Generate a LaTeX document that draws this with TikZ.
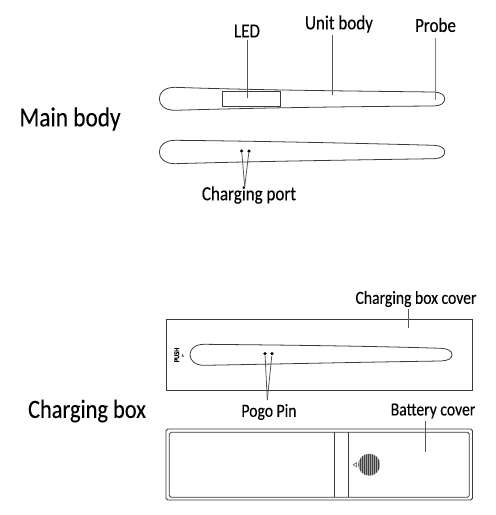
\documentclass[tikz,border=0pt]{standalone}
\usepackage{fontspec}
\usepackage{xcolor}
\usetikzlibrary{arrows.meta,positioning,calc,shapes.geometric}
\setmainfont[FakeStretch=0.85,FakeBold=0.15]{Carlito}
\definecolor{inkline}{HTML}{3A3A3A}
\definecolor{leadgray}{HTML}{555555}

\begin{document}
\begin{tikzpicture}[
    x=0.02cm, y=-0.02cm,
    every node/.style={align=center, inner sep=1pt},
    partlabel/.style={font=\fontsize{10.5}{12}\selectfont, text=black},
    toplabel/.style={font=\fontsize{11.4}{13}\selectfont, text=black},
    grouplabel/.style={font=\fontsize{15.6}{18}\selectfont, text=black},
    outline/.style={draw=inkline, line width=0.45pt},
    leader/.style={draw=leadgray, line width=0.45pt},
    pindot/.style={circle, fill=black, minimum size=2pt, inner sep=0pt},
  ]
  \useasboundingbox (0,0) rectangle (496,515);

  % group titles
  \node[grouplabel] (mainlabel) at (70,119) {Main body};
  \node[font=\fontsize{15}{17}\selectfont] (boxlabel) at (87,411) {Charging box};

  % main body, front
  \draw[outline] (175,87.3) .. controls (250,90) and (350,91) .. (434,92) .. controls (441,92.3) and (444.7,95) .. (444.7,99) .. controls (444.7,103) and (441,105.7) .. (434,106) .. controls (350,106.5) and (250,108) .. (175,110.3) .. controls (165,110.3) and (159.3,105.5) .. (159.3,98.8) .. controls (159.3,92) and (165,87.3) .. (175,87.3) -- cycle;
  \draw[outline] (222,91.3) rectangle (280.3,106.3);

  \node[toplabel] (led) at (247,31) {LED};
  \node[toplabel] (unit) at (339,24) {Unit body};
  \node[toplabel] (probe) at (435.5,25) {Probe};
  \coordinate (ledend) at (247.3,97.7);
  \coordinate (unitend) at (332.3,94.7);
  \coordinate (probeend) at (435.7,100);
  \draw[leader] (ledend |- led.south) -- (ledend);
  \draw[leader] (unitend |- unit.south) -- (unitend);
  \draw[leader, draw=gray] (probeend |- probe.south) ++(0,4) -- (probeend);

  % main body, back
  \draw[outline] (175,140.3) .. controls (250,141) and (350,143) .. (434,145.3) .. controls (441,145.6) and (444.7,148) .. (444.7,152) .. controls (444.7,156) and (441,158.4) .. (434,158.7) .. controls (350,160) and (250,161.5) .. (175,163.7) .. controls (165,163.7) and (159.3,158.5) .. (159.3,152) .. controls (159.3,145.5) and (165,140.3) .. (175,140.3) -- cycle;
  \node[pindot] (portl) at (241.7,151) {};
  \node[pindot] (portr) at (249,151) {};
  \node[toplabel] (port) at (249,195) {Charging port};
  \coordinate (portfoot) at (244.7,186.7);
  \draw[leader] (portfoot) -- (portl);
  \draw[leader] (portfoot) -- (portr);

  % charging box cover
  \draw[outline] (166,319) rectangle (472,390.7);
  \draw[outline] (204,344.3) .. controls (280,345) and (370,346) .. (441,348.3) .. controls (448,348.6) and (452,351) .. (452,354.7) .. controls (452,358.5) and (448,360.7) .. (441,361) .. controls (370,362) and (280,364) .. (204,365.3) .. controls (195,365.3) and (190,360.5) .. (190,354.7) .. controls (190,349) and (195,344.3) .. (204,344.3) -- cycle;
  \node[font=\fontsize{4.2}{5}\selectfont\bfseries, rotate=90, inner sep=0pt] (push) at (176.7,355) {PUSH};
  \node[isosceles triangle, fill=leadgray, minimum size=1pt, inner sep=0.4pt, rotate=90, shape border rotate=0] (pushmark) at (182.7,356) {};
  \node[pindot] (pogol) at (265,353.7) {};
  \node[pindot] (pogor) at (272,353.7) {};
  \node[partlabel] (pogo) at (269,412) {Pogo Pin};
  \coordinate (pogofoot) at (267.3,400);
  \draw[leader] (pogofoot) -- (pogol);
  \draw[leader] (pogofoot) -- (pogor);
  \node[partlabel] (cover) at (416,299) {Charging box cover};
  \coordinate (coverend) at (408.7,328.3);
  \draw[leader] (coverend |- cover.south) -- (coverend);

  % battery side
  \draw[outline, rounded corners=1pt] (166,429) rectangle (472.5,500);
  \draw[outline, rounded corners=1pt] (169.3,432.3) rectangle (469.3,497.3);
  \draw[outline] (334.3,432.3) -- (334.3,497.3);
  \draw[outline] (348.3,432.3) -- (348.3,497.3);
  \begin{scope}
    \clip (369.3,464.7) circle (11);
    \fill[black!35] (358,453) rectangle (381,476);
    \foreach \gx in {358.5,360.5,...,380.5}
      \draw[black!75, line width=0.5pt] (\gx,453) -- (\gx,476);
  \end{scope}
  \draw[draw=leadgray, line width=0.3pt] (353.2,464.7) -- (356.6,462.6) -- (356.6,466.8) -- cycle;
  \node[partlabel] (battery) at (433,411) {Battery cover};
  \coordinate (batteryend) at (425,451.7);
  \draw[leader] (batteryend |- battery.south) -- (batteryend);
\end{tikzpicture}
\end{document}
